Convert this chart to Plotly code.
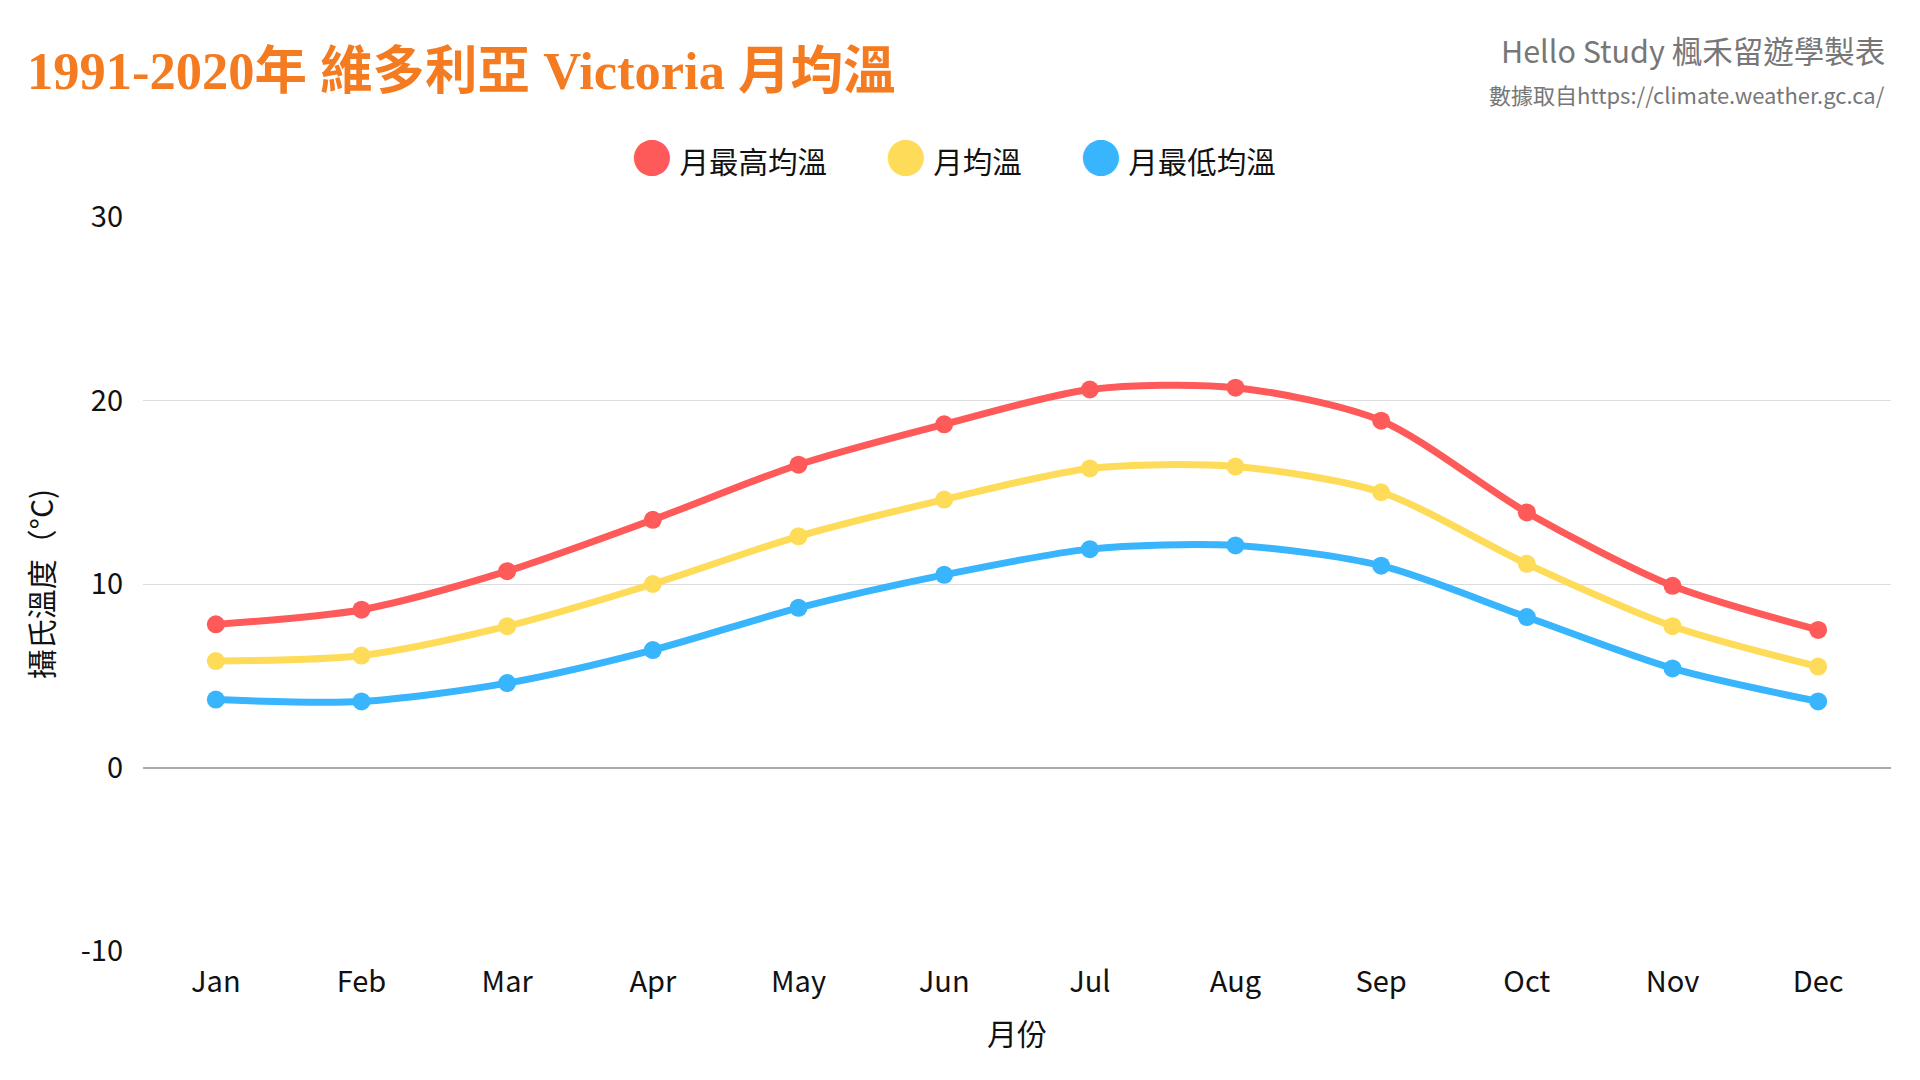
import plotly.graph_objects as go

# monthly normals 1991-2020, Victoria
months = ["Jan", "Feb", "Mar", "Apr", "May", "Jun",
          "Jul", "Aug", "Sep", "Oct", "Nov", "Dec"]
max_temp = [7.8, 8.6, 10.7, 13.5, 16.5, 18.7, 20.6, 20.7, 18.9, 13.9, 9.9, 7.5]
mean_temp = [5.8, 6.1, 7.7, 10.0, 12.6, 14.6, 16.3, 16.4, 15.0, 11.1, 7.7, 5.5]
min_temp = [3.7, 3.6, 4.6, 6.4, 8.7, 10.5, 11.9, 12.1, 11.0, 8.2, 5.4, 3.6]

y_ticks = [-10, 0, 10, 20, 30]
y_tick_labels = ["-10", "0", "10", "20", "30"]

series = [
    ("月最高均溫", max_temp, "#ff5a5a"),
    ("月均溫", mean_temp, "#fedc5a"),
    ("月最低均溫", min_temp, "#38b5fd"),
]

sans = "Noto Sans CJK TC"

fig = go.Figure()
for name, values, color in series:
    fig.add_trace(
        go.Scatter(
            x=months,
            y=values,
            name=name,
            mode="lines+markers",
            line={"color": color, "width": 7, "shape": "spline", "smoothing": 0.8},
            marker={"color": color, "size": 18},
            showlegend=False,
        )
    )

# legend drawn as one centred line of text: big coloured dot + series name
gap = "\u2003\u2003"
legend_text = gap.join(
    f"<span style='color:{color};font-size:40px'>●</span>\u2005{name}"
    for name, _, color in series
)

fig.update_layout(
    width=1920,
    height=1080,
    paper_bgcolor="white",
    plot_bgcolor="white",
    # the page body adds 8px, so the margins are shifted to compensate
    margin={"l": 135, "r": 37, "t": 209, "b": 137},
    font={"family": sans, "size": 29, "color": "#111111"},
    title={
        "text": "<b>1991-2020年 維多利亞 Victoria 月均溫</b>",
        "font": {"family": "Liberation Serif, Noto Sans CJK TC", "size": 52.5, "color": "#f47b20"},
        "x": 0.0099,
        "xanchor": "left",
        "y": 0.9417,
        "yanchor": "middle",
    },
    annotations=[
        {
            "text": legend_text,
            "xref": "paper", "yref": "paper",
            "x": 0.464, "y": 1.083, "xanchor": "center", "yanchor": "middle",
            "showarrow": False,
            "font": {"family": sans, "size": 29.5, "color": "#111111"},
        },
        {
            "text": "Hello Study 楓禾留遊學製表",
            "xref": "paper", "yref": "paper",
            "x": 0.9977, "y": 1.2275, "xanchor": "right", "yanchor": "middle",
            "showarrow": False,
            "font": {"family": sans, "size": 30.5, "color": "#777777"},
        },
        {
            "text": "數據取自https://climate.weather.gc.ca/",
            "xref": "paper", "yref": "paper",
            "x": 0.9977, "y": 1.1676, "xanchor": "right", "yanchor": "middle",
            "showarrow": False,
            "font": {"family": sans, "size": 22, "color": "#777777"},
        },
    ],
)

fig.update_xaxes(
    type="category",
    range=[-0.5, 11.5],
    showgrid=False,
    showline=False,
    ticklabelstandoff=11,
    tickfont={"size": 29},
    title={"text": "月份", "font": {"size": 30}, "standoff": 24},
)
fig.update_yaxes(
    range=[-10, 30],
    tickvals=y_ticks,
    ticktext=y_tick_labels,
    showgrid=True,
    gridcolor="#dddddd",
    gridwidth=1,
    zeroline=True,
    zerolinecolor="#aaaaaa",
    zerolinewidth=1.5,
    ticklabelstandoff=19,
    tickfont={"size": 29},
    title={"text": "攝氏溫度（°C)", "font": {"size": 30}, "standoff": 18},
)

fig.write_html("out.html")
